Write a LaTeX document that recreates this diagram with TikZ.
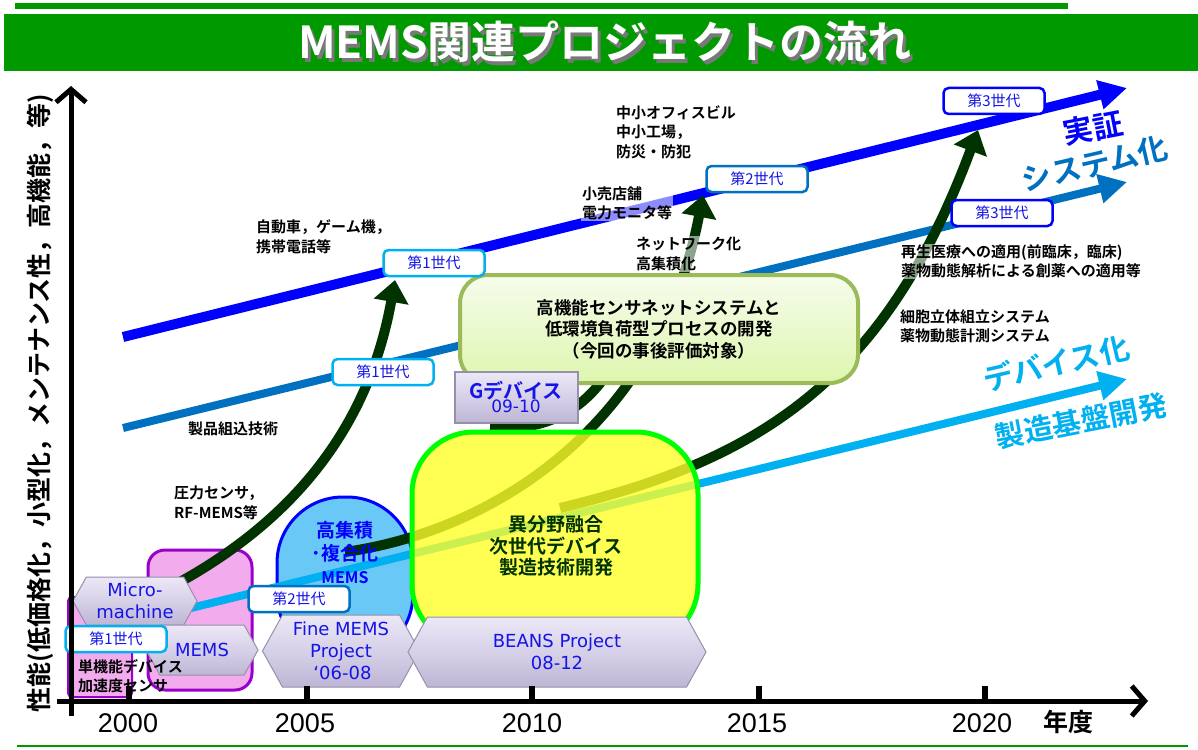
\documentclass[tikz,border=0pt]{standalone}
\usepackage{fontspec}
\setmainfont{Noto Sans CJK JP}[BoldFont={Noto Sans CJK JP Bold}]
\newfontfamily\arialf{Liberation Sans}
\newfontfamily\verd{DejaVu Sans}
\usetikzlibrary{arrows.meta,shapes.symbols}
\definecolor{tgreen}{RGB}{0,153,0}
\definecolor{tshadow}{RGB}{120,120,120}
\definecolor{lineA}{RGB}{0,0,255}
\definecolor{lineB}{RGB}{0,112,192}
\definecolor{lineC}{RGB}{0,176,240}
\definecolor{dkgreen}{RGB}{0,51,0}
\definecolor{lav}{RGB}{214,208,232}
\definecolor{lavtop}{RGB}{236,232,246}
\definecolor{lavbot}{RGB}{190,182,212}
\definecolor{lavdark}{RGB}{150,144,170}
\definecolor{txtblue}{RGB}{20,20,230}
\definecolor{hktop}{RGB}{246,252,236}
\definecolor{hkbot}{RGB}{222,246,175}
\definecolor{hkborder}{RGB}{155,187,89}
\definecolor{ygreen}{RGB}{0,255,0}
\definecolor{yfill}{RGB}{255,255,40}
\definecolor{pinkf}{RGB}{242,172,238}
\definecolor{purp}{RGB}{153,0,204}
\definecolor{skyf}{RGB}{105,200,245}
\definecolor{ytext}{RGB}{0,51,0}
\tikzset{
 gen/.style={draw, line width=2.5pt, fill=white, rounded corners=5pt, minimum width=101pt, minimum height=26pt, inner sep=0pt, text=txtblue, font=\fontsize{15}{15}\selectfont},
 lbl/.style={font=\bfseries\fontsize{15}{19.5}\selectfont, align=left, anchor=west, inner sep=1pt},
 glow/.style={fill=white, fill opacity=0.55, text opacity=1},
 hexbox/.style={shape=signal, signal to=east and west, signal pointer angle=122, draw=lavdark, line width=1pt, top color=lavtop, bottom color=lavbot, middle color=lav, inner sep=0pt, align=center, text=txtblue, font=\verd\fontsize{18}{22}\selectfont},
 big/.style={font=\bfseries\fontsize{30}{30}\selectfont, inner sep=0pt},
 curve/.style={dkgreen, line width=10pt},
 ctip/.style={-{Triangle[length=22pt,width=34pt]}},
 ltip/.style={-{Triangle[length=28pt,width=28pt]}},
 axis/.style={line width=5pt, -{Straight Barb[length=13pt,width=30pt]}},
}
\begin{document}
\begin{tikzpicture}[x=1pt,y=-1pt]
\useasboundingbox (0,0) rectangle (1198,749);
\fill[white] (0,0) rectangle (1198,749);
% title
\fill[tgreen] (15,3) rectangle (1068,9);
\fill[tgreen] (4,14) rectangle (1198,71);
\node[text=tshadow, font=\bfseries\fontsize{44}{44}\selectfont] (titlesh) at (608,46) {MEMS関連プロジェクトの流れ};
\node[text=white, font=\bfseries\fontsize{44}{44}\selectfont] (title) at (605,42) {MEMS関連プロジェクトの流れ};
\draw[tgreen, line width=2pt] (17,746) -- (1188,746);

% background shapes
\draw[purp, line width=2pt, fill=pinkf, rounded corners=4pt] (68,597) rectangle (132,697);
\draw[purp, line width=3pt, fill=pinkf, rounded corners=17pt] (148,550) rectangle (252,690);
\draw[lineA, line width=3pt, fill=skyf, rounded corners=66pt] (277,497) rectangle (413,660);

% trend lines
\coordinate (lc0) at (150,618); \coordinate (lc1) at (1127,379);
\coordinate (lb0) at (123,428); \coordinate (lb1) at (1127,182);
\coordinate (la0) at (123,337); \coordinate (la1) at (1127,88);
\draw[lineC, line width=8pt, ltip] (lc0) -- (lc1);
\draw[lineB, line width=8pt, ltip] (lb0) -- (lb1);
\draw[lineA, line width=10pt, ltip] (la0) -- (la1);

% green curves
\coordinate (ca0) at (165,590); \coordinate (ca1) at (395,280);
\coordinate (cb0) at (345,552); \coordinate (cb1) at (703,195);
\coordinate (cg0) at (490,428); \coordinate (cg1) at (628,335);
\coordinate (cc0) at (560,508); \coordinate (cc1) at (978,130);
\draw[curve, ctip] (ca0) .. controls (300,520) and (370,420) .. (ca1);
\draw[curve, ctip] (cb0) .. controls (500,530) and (660,420) .. (cb1);
\draw[curve] (cg0) .. controls (560,432) and (600,400) .. (cg1);
\draw[curve, ctip] (cc0) .. controls (760,460) and (885,380) .. (cc1);

% yellow box
\draw[ygreen, line width=5pt, fill=yfill, fill opacity=0.8, rounded corners=62pt] (412,432) rectangle (698,646);
\node[font=\bfseries\fontsize{19}{21.5}\selectfont, text=ytext, align=center] (ybox) at (556,546) {異分野融合\\次世代デバイス\\製造技術開発};

% ellipse text
\node[font=\bfseries\fontsize{19}{23}\selectfont, text=lineA, align=center] (hie) at (345,553) {高集積\\･複合化\\{\fontsize{16}{16}\selectfont MEMS}};

% main box
\node[draw=hkborder, line width=4pt, top color=hktop, bottom color=hkbot, rounded corners=28pt, minimum width=398pt, minimum height=108pt, align=center, font=\bfseries\fontsize{17.5}{21.5}\selectfont] (hk) at (659,329) {高機能センサネットシステムと\\低環境負荷型プロセスの開発\\（今回の事後評価対象）};

% G device
\node[draw=lavdark, line width=2pt, top color=lavtop, bottom color=lavbot, middle color=lav, minimum width=123pt, minimum height=51pt, inner sep=0pt, align=center, text=txtblue] (gdev) at (516,397) {{\bfseries\fontsize{20}{22}\selectfont Gデバイス}\\[-1pt]{\verd\fontsize{17}{19}\selectfont 09-10}};

% hexagons
\node[hexbox, minimum width=124pt, minimum height=48pt] (hmicro) at (135,601) {Micro-\\machine};
\node[hexbox, minimum width=112pt, minimum height=50pt] (hmems) at (202,650) {MEMS};
\node[hexbox, minimum width=157pt, minimum height=72pt] (hfine) at (341,651) {Fine MEMS\\Project\\\,‘06-08};
\node[hexbox, minimum width=298pt, minimum height=70pt] (hbeans) at (557,652) {BEANS Project\\08-12};

% generation boxes
\node[gen, draw=lineC] (g1a) at (116,639) {第1世代};
\node[gen, draw=lineB] (g2a) at (299,599) {第2世代};
\node[gen, draw=lineC] (g1b) at (383,372) {第1世代};
\node[gen, draw=lineC] (g1c) at (434,263) {第1世代};
\node[gen, draw=lineB] (g2b) at (757,179) {第2世代};
\node[gen, draw=lineA] (g3a) at (994,101) {第3世代};
\node[gen, draw=lineA] (g3b) at (1002,213) {第3世代};

% labels
\node[lbl] (tl1) at (77,676) {単機能デバイス\\加速度センサ};
\node[lbl] (tl2) at (173,503) {圧力センサ，\\RF-MEMS等};
\node[lbl] (tl3) at (187,429) {製品組込技術};
\node[lbl] (tl4) at (255,237) {自動車，ゲーム機，\\携帯電話等};
\node[lbl] (tl5) at (615,132) {中小オフィスビル\\中小工場，\\防災・防犯};
\node[lbl, glow] (tl6) at (581,203.5) {小売店舗\\電力モニタ等};
\node[lbl, glow] (tl7) at (635,254) {ネットワーク化\\高集積化};
\node[lbl, glow] (tl8) at (900,261.5) {再生医療への適用(前臨床，臨床)\\薬物動態解析による創薬への適用等};
\node[lbl] (tl9) at (899,326.5) {細胞立体組立システム\\薬物動態計測システム};

% big side labels
\node[big, text=lineA, rotate=11] (jissho) at (1093,128) {実証};
\node[big, text=lineB, rotate=13] (sys) at (1095,164) {システム化};
\node[big, text=lineC, rotate=13] (dev) at (1056,363) {デバイス化};
\node[big, text=lineC, rotate=11, font=\bfseries\fontsize{29}{29}\selectfont] (seizo) at (1081,421) {製造基盤開発};

% axes
\coordinate (yb) at (71,716); \coordinate (yt) at (71,86);
\coordinate (xl) at (57,701); \coordinate (xr) at (1148,701);
\draw[axis] (yb) -- (yt);
\draw[axis] (xl) -- (xr);
\foreach \x in {129,307,532,759,985} \draw[line width=6pt] (\x,701) -- (\x,686);
\node[font=\arialf\fontsize{27}{27}\selectfont] (y2000) at (128,723) {2000};
\node[font=\arialf\fontsize{27}{27}\selectfont] (y2005) at (305,723) {2005};
\node[font=\arialf\fontsize{27}{27}\selectfont] (y2010) at (532,723) {2010};
\node[font=\arialf\fontsize{27}{27}\selectfont] (y2015) at (757,723) {2015};
\node[font=\arialf\fontsize{27}{27}\selectfont] (y2020) at (982,723) {2020};
\node[font=\bfseries\fontsize{25}{25}\selectfont] (nendo) at (1068,722) {年度};
\node[rotate=90, font=\bfseries\fontsize{25}{25}\selectfont] (ylab) at (40,403) {性能(低価格化，小型化，メンテナンス性，高機能，等)};
\end{tikzpicture}
\end{document}
